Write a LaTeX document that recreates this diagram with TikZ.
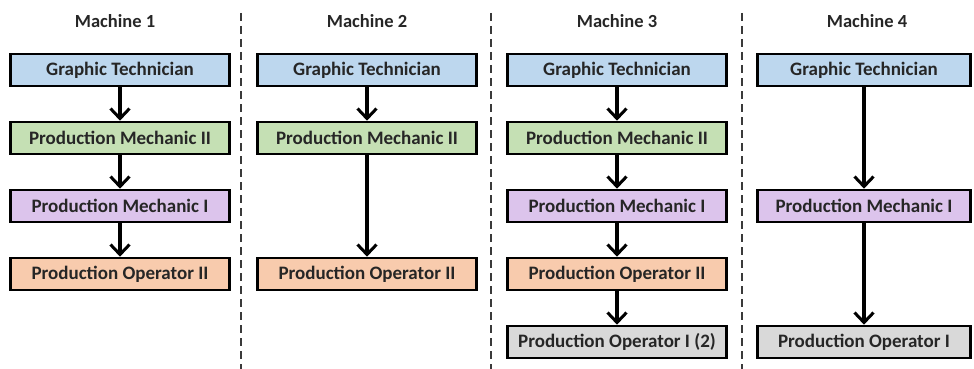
\documentclass[tikz,border=0pt]{standalone}
\usepackage{fontspec}
\setmainfont{Carlito}
\usetikzlibrary{arrows.meta}
\definecolor{techblue}{HTML}{BDD7EE}
\definecolor{mechgreen}{HTML}{C5E0B4}
\definecolor{mechpurple}{HTML}{DCC4EC}
\definecolor{operorange}{HTML}{F8CBAD}
\definecolor{opergray}{HTML}{D9D9D9}
\definecolor{divider}{HTML}{3A3A3A}
\begin{document}
\begin{tikzpicture}[x=1pt,y=-1pt,
  role/.style={draw=black, line width=2.6pt, minimum width=219pt, minimum height=32pt,
    inner sep=0pt, font=\fontsize{19}{22}\selectfont\bfseries, text=black!85},
  title/.style={font=\fontsize{18.5}{22}\selectfont\bfseries, text=black!85},
  flow/.style={line width=3.2pt, -{Straight Barb[length=10pt,width=19pt,line width=3pt]}},
  divline/.style={draw=divider, line width=1.6pt, dash pattern=on 8pt off 5pt}]
\useasboundingbox (0,0) rectangle (974,369);

% column headers
\node[title] (h1) at (115,21) {Machine 1};
\node[title] (h2) at (367,21) {Machine 2};
\node[title] (h3) at (617,21) {Machine 3};
\node[title] (h4) at (867,21) {Machine 4};

% dashed column separators
\coordinate (d1t) at (241,13); \coordinate (d1b) at (241,369);
\coordinate (d2t) at (491,13); \coordinate (d2b) at (491,369);
\coordinate (d3t) at (742,13); \coordinate (d3b) at (742,369);
\draw[divline] (d1t) -- (d1b);
\draw[divline] (d2t) -- (d2b);
\draw[divline] (d3t) -- (d3b);

% Machine 1
\node[role, fill=techblue]   (a1) at (120,70)  {Graphic Technician};
\node[role, fill=mechgreen]  (a2) at (120,138) {Production Mechanic II};
\node[role, fill=mechpurple] (a3) at (120,206) {Production Mechanic I};
\node[role, fill=operorange] (a4) at (120,274) {Production Operator II};
\draw[flow] (a1) -- (a2);
\draw[flow] (a2) -- (a3);
\draw[flow] (a3) -- (a4);

% Machine 2
\node[role, fill=techblue]   (b1) at (367,70)  {Graphic Technician};
\node[role, fill=mechgreen]  (b2) at (367,138) {Production Mechanic II};
\node[role, fill=operorange] (b3) at (367,274) {Production Operator II};
\draw[flow] (b1) -- (b2);
\draw[flow] (b2) -- (b3);

% Machine 3
\node[role, fill=techblue]   (c1) at (617,70)  {Graphic Technician};
\node[role, fill=mechgreen]  (c2) at (617,138) {Production Mechanic II};
\node[role, fill=mechpurple] (c3) at (617,206) {Production Mechanic I};
\node[role, fill=operorange] (c4) at (617,274) {Production Operator II};
\node[role, fill=opergray]   (c5) at (617,342) {Production Operator I (2)};
\draw[flow] (c1) -- (c2);
\draw[flow] (c2) -- (c3);
\draw[flow] (c3) -- (c4);
\draw[flow] (c4) -- (c5);

% Machine 4
\node[role, fill=techblue,   minimum width=213pt] (e1) at (864,70)  {Graphic Technician};
\node[role, fill=mechpurple, minimum width=213pt] (e2) at (864,206) {Production Mechanic I};
\node[role, fill=opergray,   minimum width=213pt] (e3) at (864,342) {Production Operator I};
\draw[flow] (e1) -- (e2);
\draw[flow] (e2) -- (e3);
\end{tikzpicture}
\end{document}
